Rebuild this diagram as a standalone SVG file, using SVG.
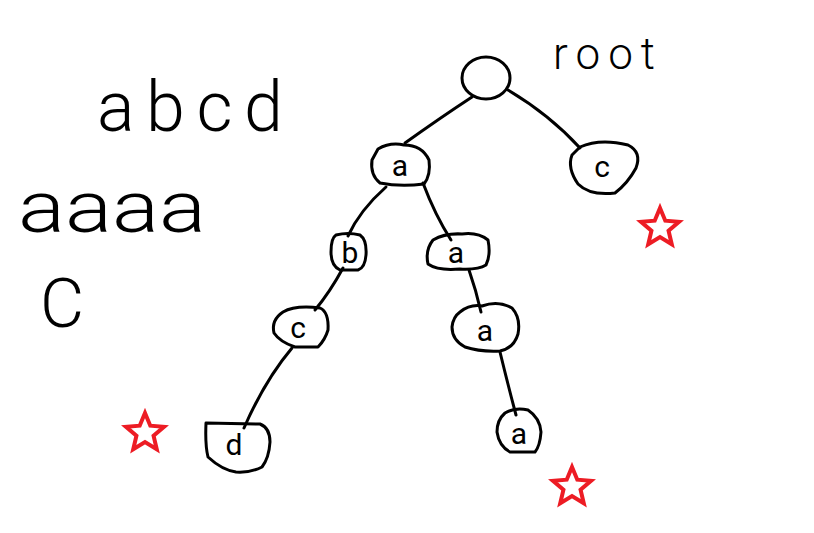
<svg xmlns="http://www.w3.org/2000/svg" width="814" height="533" viewBox="0 0 814 533">
<style>
.n{fill:none;stroke:#000;stroke-width:3;stroke-linejoin:round;stroke-linecap:round}
.e{fill:none;stroke:#000;stroke-width:3;stroke-linecap:round}
.t{font-family:Roboto,Inter,"Liberation Sans",sans-serif;font-weight:300;fill:#000}
.lbl{font-size:30px;text-anchor:middle;font-weight:400}
.star{fill:none;stroke:#ed1c24;stroke-width:4;stroke-linejoin:miter}
</style>
<defs>
<polygon id="star" points="0,-20 5.29,-7.28 19.02,-6.18 8.56,2.78 11.76,16.18 0,9 -11.76,16.18 -8.56,2.78 -19.02,-6.18 -5.29,-7.28"/>
</defs>
<rect width="814" height="533" fill="#fff"/>
<g id="words">
<text class="t" x="97" y="131" font-size="70" textLength="186" lengthAdjust="spacing">abcd</text>
<text class="t" x="18" y="232" font-size="72" textLength="188" lengthAdjust="spacingAndGlyphs">aaaa</text>
<text class="t" x="40" y="327" font-size="68">C</text>
<text class="t" x="553" y="69" font-size="44" textLength="102" lengthAdjust="spacing">root</text>
</g>
<g id="connectors">
<path class="e" d="M472,97 Q440,118 405,143"/>
<path class="e" d="M508,90 Q550,115 580,148"/>
<path class="e" d="M386,187 Q360,210 348,236"/>
<path class="e" d="M423,183 Q435,215 451,240"/>
<path class="e" d="M343,268 Q330,292 315,310"/>
<path class="e" d="M469,270 Q476,290 481,312"/>
<path class="e" d="M292,348 Q265,380 244,428"/>
<path class="e" d="M500,352 Q508,385 516,415"/>
</g>
<g id="node-root"><ellipse class="n" cx="486" cy="78" rx="24" ry="21"/></g>
<g id="node-a1"><path class="n" d="M378,149 Q390,142 404,145 Q422,145 429,160 Q431,175 424,184 Q400,187 380,183 Q370,175 372,160 Z"/><text class="t lbl" x="400" y="176">a</text></g>
<g id="node-c1"><path class="n" d="M580,147 Q600,138 628,145 Q642,152 636,168 Q628,183 615,193 Q590,196 578,184 Q567,168 572,155 Z"/><text class="t lbl" x="602" y="177">c</text></g>
<g id="node-b"><path class="n" d="M336,235 Q348,232 360,235 Q367,240 366,255 Q365,268 358,270 L340,270 Q331,266 331,252 Q331,238 336,235 Z"/><text class="t lbl" x="350" y="263">b</text></g>
<g id="node-a2"><path class="n" d="M433,240 Q445,233 462,234 Q478,232 488,240 Q491,255 486,265 Q478,270 460,269 Q438,271 428,264 Q425,250 433,240 Z"/><text class="t lbl" x="456" y="263">a</text></g>
<g id="node-c2"><path class="n" d="M283,312 Q295,305 320,308 Q329,312 328,330 Q325,340 318,347 L295,347 Q280,342 274,333 Q271,320 283,312 Z"/><text class="t lbl" x="298" y="338">c</text></g>
<g id="node-a3"><path class="n" d="M460,312 Q470,304 482,306 Q498,300 512,308 Q521,318 518,334 Q514,348 500,351 Q480,352 465,347 Q452,340 452,327 Q453,317 460,312 Z"/><text class="t lbl" x="485" y="341">a</text></g>
<g id="node-d"><path class="n" d="M206,423 L260,424 Q270,428 270,442 Q269,458 262,467 Q250,473 236,472 Q222,470 208,457 Q205,445 206,423 Z"/><text class="t lbl" x="234" y="455">d</text></g>
<g id="node-a4"><path class="n" d="M505,413 Q515,407 528,410 Q540,418 541,432 Q540,446 535,452 L510,452 Q499,446 497,432 Q497,420 505,413 Z"/><text class="t lbl" x="519" y="444">a</text></g>
<g id="stars">
<use href="#star" class="star" x="660" y="228"/>
<use href="#star" class="star" x="145" y="433"/>
<use href="#star" class="star" x="572" y="487"/>
</g>
</svg>
